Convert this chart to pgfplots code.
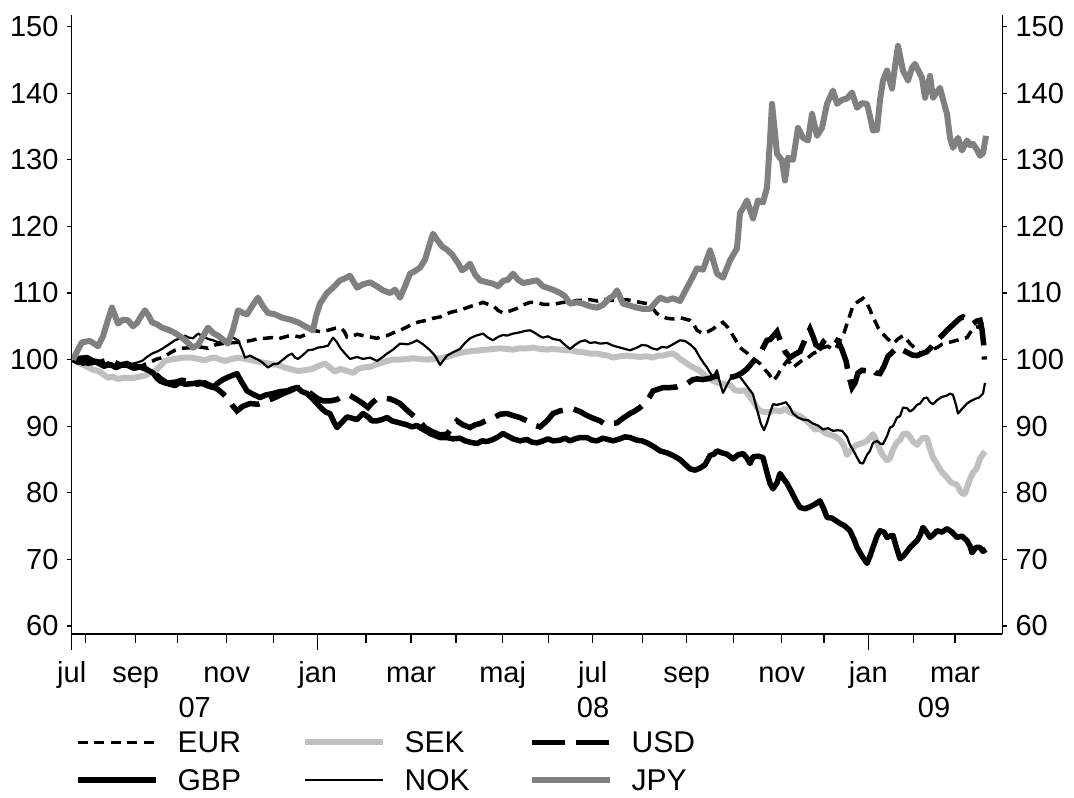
\documentclass[border=0pt]{standalone}
\usepackage{pgfplots}
\pgfplotsset{compat=1.18}
\usepackage{fontspec}
\setmainfont{Liberation Sans}
\definecolor{sekgray}{RGB}{192,192,192}
\definecolor{jpygray}{RGB}{128,128,128}
\newcommand{\bigf}{\fontsize{29}{34}\selectfont}
\newcommand{\legf}{\fontsize{30}{34}\selectfont}
\pgfplotsset{frame/.style={
  at={(71.7pt,164pt)}, anchor=south west,
  scale only axis, width=930.6pt, height=619.4pt,
  xmin=71.7, xmax=1002.3, ymin=58.8, ymax=151.8,
  axis line style={-, line width=1.3pt},
  every tick/.style={black, line width=1.2pt},
  tick align=outside,
  /pgf/number format/assume math mode=true,
  tick label style={font=\bigf}}}
\begin{document}
\begin{tikzpicture}[x=1pt,y=1pt]
\useasboundingbox (0,0) rectangle (1074,798);
\begin{axis}[frame,
  clip mode=individual,
  axis x line*=bottom, axis y line*=left,
  ytick=\empty,
  major tick length=9pt,
  xtick={71.7,85.7,135.7,177.7,226.7,273.3,317.7,366,411,456,502.7,548.3,592.7,642.3,686.7,733.3,781.7,824,868.3,913.3,955},
  xticklabels={jul,,sep,,nov,,jan,,mar,,maj,,jul,,sep,,nov,,jan,,mar},
  xticklabel style={anchor=base, inner sep=0pt, yshift=-39pt},
  extra x ticks={71.7,317.7,868.3},
  extra x tick labels={},
  extra x tick style={major tick length=16pt},
  legend columns=3,
  legend style={draw=none, fill=none, at={(axis description cs:0.0035,-0.1575)}, anchor=north west,
    inner sep=0pt, font=\legf, column sep=13pt, row sep=16.5pt,
    nodes={inner sep=0pt, text height=21pt, text depth=0pt, text width=111pt, align=left},
    /tikz/every odd column/.append style={column sep=19pt}},
  legend cell align=left,
  legend image code/.code={\draw[#1] (0pt,0pt) -- (78pt,0pt);},
  line join=round,
]
% EUR
\addplot[black, line width=3.5pt, dash pattern=on 10pt off 6.5pt, line join=miter] coordinates {
(73,100)(80,99.6)(88,99.2)(95,99.5)(103,99.3)(110,99)(118,99.2)(125,99.4)(132,99.1)(140,98.9)(145,99.3)(150,99.6)(157,100.1)(163,100.3)(170,101)(175,101.4)(182,101.7)(192,101.8)(200,101.9)(208,101.7)(215,102.2)(222,102.4)(230,102.5)(238,102.6)(245,102.7)(252,102.9)(260,103.2)(265,103.2)(272,103.3)(278,103.1)(287,103.5)(293,103.6)(300,103.4)(308,103.9)(313,104.4)(320,104.2)(328,104.4)(335,104.7)(340,104.8)(344,104.3)(347,103.4)(352,103.5)(357,103.8)(363,103.6)(370,103.4)(377,103.2)(382,103.5)(387,103.6)(393,104)(400,104.4)(407,104.9)(413,105.4)(420,105.7)(427,105.9)(433,106.2)(440,106.4)(447,106.9)(453,107.2)(460,107.4)(467,107.8)(473,108.1)(478,108.3)(483,108.6)(488,108.3)(493,108.1)(498,107.4)(503,107)(510,107.3)(517,107.7)(523,108.2)(530,108.6)(537,108.6)(543,108.3)(550,108.3)(557,108.4)(563,108.6)(570,108.6)(577,108.9)(583,108.9)(590,109)(597,108.8)(603,109.1)(610,108.9)(620,108.9)(627,109)(633,108.8)(640,108.6)(647,108.4)(652,107.8)(657,106.9)(662,106.5)(667,106.2)(673,106.1)(680,106.3)(685,106.1)(690,105.9)(694,105.2)(697,104.4)(703,103.9)(708,104.2)(713,104.6)(718,105.2)(723,105.6)(728,104.8)(733,103.6)(737,102.6)(740,101.8)(747,101)(753,100.2)(760,99.4)(765,98.5)(770,97.6)(773,96.8)(777,97.5)(780,98.3)(787,99.8)(790,99.5)(793,98.8)(798,99.4)(803,100)(808,100.3)(813,100.9)(818,101.3)(823,101.8)(828,102)(833,101.5)(836,101.7)(840,102.9)(844,104)(847,105.4)(850,106.7)(853,108.1)(857,108.6)(860,108.9)(863,109.2)(867,108.4)(870,107.5)(873,106.3)(876,105.5)(878,104.8)(882,104)(887,103.2)(890,102.8)(893,102.4)(898,103.1)(903,103.6)(907,103)(910,102.4)(915,101.7)(920,101)(924,101)(927,101.2)(932,101.5)(937,101.8)(942,102.3)(947,102.5)(952,102.7)(957,102.9)(962,103.1)(967,103.3)(970,104)(973,104.7)(977,104.9)(980,104.8)(983,105.9)(986,106.4)
};
\addlegendentry{EUR}
% SEK
\addplot[sekgray, line width=6pt] coordinates {
(73,100)(79,99.5)(85,99.1)(91,98.6)(98,98.3)(103,97.8)(108,97.3)(113,97.4)(118,97.1)(125,97.3)(132,97.2)(138,97.4)(145,97.6)(150,98)(155,98.3)(160,99)(165,99.8)(170,100)(175,100.1)(183,100.3)(192,100.3)(198,100.1)(205,99.9)(210,100.2)(215,100.3)(220,100)(225,99.8)(232,100.1)(238,100.3)(245,100.1)(252,99.9)(258,99.7)(265,99.5)(272,99.3)(278,99.2)(285,98.8)(292,98.5)(298,98.3)(305,98.4)(312,98.6)(318,99)(325,99.4)(330,98.8)(335,98.2)(340,98.6)(347,98.3)(353,98)(358,98.6)(363,98.8)(370,98.9)(377,99.3)(383,99.6)(387,99.8)(393,100)(400,100)(407,100.1)(413,100.2)(420,100.1)(427,100)(433,100.1)(440,100.2)(447,100.4)(453,100.7)(460,101)(467,101.2)(473,101.3)(480,101.4)(487,101.5)(493,101.6)(500,101.7)(507,101.6)(513,101.5)(520,101.7)(527,101.7)(533,101.8)(540,101.6)(547,101.5)(553,101.6)(560,101.5)(565,101.4)(570,101.4)(577,101.2)(583,101.1)(590,100.9)(597,100.9)(603,100.7)(608,100.6)(613,100.3)(620,100.5)(627,100.6)(633,100.5)(640,100.4)(647,100.5)(653,100.3)(658,100.6)(663,100.6)(668,100.8)(673,100.9)(677,100.5)(680,100.1)(685,99.6)(690,99.1)(695,98.7)(700,98.3)(703,97.9)(707,97.3)(713,96.8)(720,96.4)(725,96.4)(730,96.2)(735,95.4)(740,95.3)(745,95.4)(749,94.6)(753,93.8)(757,92.8)(760,92.3)(765,92.1)(770,92.1)(775,92.4)(780,92.2)(785,92.6)(790,92.1)(795,91.8)(800,91.5)(805,91)(810,90.3)(815,89.5)(820,89.6)(825,89)(830,88.7)(835,88.5)(840,87.9)(844,87)(847,85.7)(850,86.2)(853,86.8)(857,87.2)(863,87.5)(867,87.8)(873,88.8)(877,87.6)(880,86.4)(883,85.6)(887,84.9)(890,85.2)(893,86.5)(897,87.6)(900,87.9)(903,88.8)(907,88.9)(910,88.4)(913,87.7)(917,87.2)(920,87.8)(923,88.3)(927,88.2)(930,86.6)(933,85.3)(937,84.3)(940,83.5)(943,82.9)(947,82.3)(950,81.7)(953,81.4)(957,81.2)(960,80.3)(963,79.8)(965,79.9)(967,80.8)(970,82.1)(973,83)(977,83.8)(980,85.2)(985,86.2)
};
\addlegendentry{SEK}
% USD
\addplot[black, line width=5.5pt, dash pattern=on 33pt off 11pt, line join=miter] coordinates {
(73,100)(80,100.2)(87,100.3)(93,99.8)(100,99.6)(107,99.9)(113,99.7)(120,99.2)(127,99.4)(133,99)(140,98.9)(147,98.6)(153,98.2)(160,97.2)(167,96.5)(175,96.6)(182,96.9)(190,96.7)(197,96.3)(205,96.5)(212,96)(218,95.5)(222,95)(227,94.3)(232,93.2)(237,92.3)(243,93)(250,93.4)(258,93.3)(267,93.8)(275,94.3)(283,94.9)(290,95.3)(297,95.8)(303,95.8)(310,95)(317,94.2)(323,93.8)(330,93.8)(337,94)(340,94.3)(345,94.4)(350,94.6)(357,94)(363,93.4)(368,92.8)(372,93.5)(377,94.1)(383,94.2)(390,94.1)(395,93.8)(400,93.4)(410,92)(418,91)(425,89.8)(432,89.2)(440,88.7)(447,88.8)(452,89.8)(457,90.8)(463,90.2)(470,89.8)(475,90.2)(480,90.4)(487,90.9)(493,91.2)(500,91.8)(507,91.9)(513,91.6)(520,91.3)(527,90.8)(533,90.2)(540,89.9)(547,90.8)(553,91.9)(560,92.3)(567,92.5)(573,92.6)(580,92.2)(587,91.6)(593,91.2)(600,90.8)(605,90.3)(610,90.4)(617,90.5)(623,91.2)(630,91.9)(635,92.3)(640,92.8)(645,93.5)(650,94.5)(653,95.3)(657,95.5)(663,95.8)(670,95.8)(677,95.9)(682,96.2)(687,96.4)(693,97)(697,97.1)(703,97)(710,97.2)(715,97.5)(720,97.4)(727,97.3)(733,97.4)(737,97.6)(742,98)(747,98.6)(752,99.5)(757,100.3)(762,101.5)(767,102.9)(770,103)(773,103.5)(777,104.2)(781,102.5)(785,101.2)(790,100.3)(795,100.8)(800,101.2)(805,103)(810,104.6)(813,103.5)(816,102.2)(820,101.8)(824,102.8)(828,103.3)(833,103.2)(838,102.8)(842,101.5)(846,99.8)(849,97.5)(852,95.8)(855,96.5)(858,98)(862,98.4)(867,98.3)(872,98.6)(876,98)(880,97.9)(884,99)(888,100.5)(893,101.2)(897,101.8)(902,101.5)(907,101.1)(912,100.7)(917,100.6)(922,100.9)(927,101.2)(932,102)(937,102.9)(942,103.6)(947,104.4)(952,105.1)(957,105.8)(960,106.2)(963,106.4)(967,106)(970,105.6)(973,105.4)(977,105.8)(980,105.9)(982,104.5)(983.5,102.5)(984.5,100)
};
\addlegendentry{USD}
% GBP
\addplot[black, line width=5.5pt] coordinates {
(73,100)(78,99.6)(83,99.9)(88,99.4)(93,99.8)(98,99.5)(104,99)(110,99.3)(116,98.8)(122,99.2)(128,99.1)(134,98.7)(140,98.9)(147,98.5)(153,98)(157,97.2)(160,96.8)(165,96.5)(170,96.3)(175,96.1)(180,96.6)(185,96.3)(193,96.4)(200,96.6)(207,96.1)(213,95.8)(218,96.5)(223,97)(227,97.3)(232,97.6)(237,97.9)(241,96.8)(247,95.3)(253,94.8)(260,94.3)(266,94.7)(273,94.9)(280,95.2)(287,95.3)(292,95.6)(297,95.8)(302,95.2)(307,94.9)(312,94.2)(317,93.4)(322,92.6)(326,92.1)(330,91.9)(334,90.6)(337,89.8)(342,90.6)(347,91.4)(352,91.2)(357,91)(363,91.9)(368,91.4)(372,90.8)(377,90.8)(382,91)(387,91.3)(392,90.8)(397,90.6)(402,90.4)(407,90.2)(412,89.9)(417,90.1)(422,89.6)(427,89.2)(430,88.9)(435,88.6)(440,88.3)(447,88.3)(453,88.1)(460,88.2)(465,87.8)(470,87.6)(477,87.4)(482,87.8)(487,87.7)(493,88)(498,88.4)(503,88.9)(508,88.5)(513,88.1)(520,87.8)(527,88)(532,87.6)(537,87.5)(543,87.8)(548,88.1)(553,87.8)(560,87.9)(565,88.2)(570,87.8)(575,88.1)(580,88.3)(587,88.3)(592,87.9)(597,87.8)(603,88.2)(608,88)(613,87.8)(620,88.1)(625,88.4)(630,88.3)(637,87.9)(642,87.8)(647,87.5)(653,87)(660,86.3)(667,86)(673,85.6)(680,85)(685,84.3)(690,83.6)(695,83.4)(700,83.7)(705,84.2)(710,85.6)(714,85.8)(717,86.3)(722,86)(727,85.8)(733,85.1)(738,85.7)(743,85.9)(747,85.2)(750,84.4)(753,85.4)(758,85.5)(763,85.3)(767,83)(770,81.4)(773,80.6)(777,81.5)(780,82.9)(784,82)(787,81.4)(792,80)(796,78.8)(800,77.8)(805,77.6)(810,77.9)(815,78.3)(820,78.8)(824,77.5)(827,76.3)(832,76.2)(836,75.8)(840,75.4)(845,75)(850,74.3)(854,73)(857,71.8)(862,70.5)(867,69.4)(870,70.5)(873,71.8)(877,73.5)(880,74.3)(884,74.1)(887,73.3)(890,73.5)(893,73.6)(896,72)(900,70.1)(904,70.6)(910,71.8)(914,72.4)(917,72.8)(920,73.6)(923,74.8)(927,74)(930,73.3)(934,73.8)(937,74.3)(942,74.1)(947,74.6)(952,74.1)(957,73.3)(962,73.5)(967,72.8)(970,72)(972,71)(976,71.8)(980,71.8)(983,71.2)(986,71.5)
};
\addlegendentry{GBP}
% NOK
\addplot[black, line width=2.2pt] coordinates {
(73,100)(78,99.6)(83,99.2)(88,99.5)(93,99.9)(98,99.6)(103,99.3)(108,99.6)(113,98.9)(118,99.2)(123,99.5)(128,99.1)(133,99.4)(138,99.6)(142,99.8)(147,100.4)(152,100.9)(157,101.2)(162,101.6)(168,102.2)(175,102.9)(180,103.2)(185,103.6)(189,103.3)(193,103.2)(198,103.9)(203,103.5)(208,103.1)(213,102.9)(218,102.6)(223,102.8)(228,103)(233,103.3)(238,102.9)(242,101.5)(245,100.3)(250,100.6)(255,100.2)(258,100)(263,99.5)(268,98.8)(273,99.3)(278,99.4)(283,100)(288,100.6)(292,100.9)(295,100.3)(298,100.1)(303,100.7)(308,101.4)(313,101.5)(318,101.8)(323,101.9)(328,102.1)(333,103.3)(337,102.6)(340,101.8)(345,100.9)(350,100.1)(357,100.4)(363,100.1)(370,100.3)(377,99.8)(382,100.3)(387,100.9)(393,101.5)(400,102.4)(408,102.3)(413,102.6)(417,102.9)(423,102.3)(427,101.8)(430,101.4)(435,100.6)(440,99.2)(443,99.8)(447,100.6)(453,101.1)(460,101.6)(465,102.5)(470,103.2)(476,103.6)(483,103.9)(488,103.3)(493,102.9)(498,103.4)(503,103.7)(507,103.6)(513,103.9)(520,104.1)(525,104.3)(530,104.4)(535,104)(540,103.5)(543,103.3)(548,103.5)(553,103.1)(560,102.9)(565,102.2)(570,101.6)(575,102.2)(580,102.7)(585,102.9)(590,102.5)(595,102.6)(600,102.4)(607,102.5)(613,102.1)(620,101.8)(625,101.6)(630,101.4)(637,101.8)(642,102.2)(647,102.1)(652,101.7)(657,101.5)(662,101.9)(667,101.8)(673,102.3)(680,102.9)(685,102.8)(690,102.3)(695,101.6)(700,100.3)(704,99.4)(707,98.8)(713,97.3)(717,98.4)(720,96.5)(723,95)(727,96.2)(732,97.6)(738,97.8)(743,96.8)(748,95.8)(753,94.8)(757,92.5)(761,90.3)(764,89.4)(767,90.5)(770,92)(773,93.3)(777,93.2)(782,93.4)(786,93.6)(790,92.8)(793,91.9)(798,91.3)(803,91)(808,90.9)(813,90.4)(818,90.1)(823,89.5)(828,89.7)(833,89.3)(838,89.4)(842,89.3)(847,88.4)(850,87.2)(854,86.2)(857,85.3)(860,84.5)(863,84.4)(867,85.7)(870,86.3)(873,87.5)(877,87.8)(880,87.4)(883,87.3)(887,88.5)(890,89.8)(893,90)(897,91.3)(900,91.5)(903,92.8)(907,92.7)(910,92.2)(913,92.5)(917,93.2)(920,93.4)(924,94.2)(927,94.3)(930,93.6)(933,93.3)(937,93.9)(942,94.4)(947,94.6)(950,94.9)(953,94.7)(956,93.2)(958,91.9)(962,92.6)(967,93.4)(971,93.8)(975,94.1)(979,94.3)(983,94.9)(985,96.5)
};
\addlegendentry{NOK}
% JPY
\addplot[jpygray, line width=6pt] coordinates {
(73,100)(78,101.5)(82,102.6)(90,102.8)(98,102)(103,103.5)(108,106)(112,107.8)(118,105.4)(123,106)(128,105.9)(133,105)(137,105.5)(141,106.5)(145,107.4)(149,106.5)(152,105.6)(157,105.3)(162,104.8)(168,104.5)(175,104)(182,103.3)(188,102.5)(193,101.8)(198,102.2)(203,103.5)(208,104.8)(213,104)(218,103.6)(223,103)(228,102.4)(233,104.5)(238,107.4)(243,107)(247,106.8)(252,108)(258,109.3)(263,108)(268,107)(275,106.8)(282,106.3)(290,106)(298,105.6)(305,105)(313,104.4)(316,106.5)(320,108.4)(327,110)(333,110.8)(340,111.9)(345,112.2)(350,112.6)(357,110.8)(363,111.3)(370,111.6)(377,111)(383,110.4)(390,110)(395,110.5)(400,109.3)(405,111)(410,112.9)(415,113.3)(420,113.8)(425,115)(430,117.5)(433,118.9)(437,118)(442,117)(447,116.5)(452,115.8)(458,114.5)(462,113.4)(466,113.8)(470,114.4)(475,112.8)(480,111.9)(487,111.6)(493,111.4)(498,111)(503,111.8)(508,112)(513,112.9)(518,112)(523,111.5)(530,111.7)(537,111.9)(543,111)(547,110.8)(553,110.5)(560,110)(565,109.5)(570,108.4)(577,108.6)(583,108.4)(590,108)(597,107.8)(603,108.2)(610,109.3)(613,109.5)(617,110.4)(623,108.4)(630,108.1)(637,107.8)(643,107.6)(650,107.6)(655,108.5)(660,109.3)(667,108.9)(673,109.2)(680,108.8)(687,110.8)(693,112.5)(697,113.7)(703,113.5)(710,116.4)(713,115)(717,112.9)(723,112.3)(730,114.9)(737,116.7)(740,122)(744,123)(747,123.9)(753,121.2)(758,123.9)(763,123.6)(767,125.8)(770,133)(772,138.4)(775,134)(777,130.9)(782,129.9)(785,126.9)(788,130.3)(793,130)(798,134.8)(803,133.3)(808,132.9)(812,136.9)(817,133.6)(822,134.8)(827,138.4)(833,140.4)(837,138.4)(842,139)(847,139.2)(852,140.1)(857,137.8)(862,138.5)(867,138.4)(870,136.5)(873,134.4)(877,134.5)(880,139)(883,141.9)(887,143.4)(892,140.7)(895,144)(898,147.1)(903,143.4)(908,141.9)(912,143.8)(915,144.4)(918,143.5)(922,142.3)(925,139.3)(930,142.6)(933,139.3)(937,140.2)(940,140.8)(944,138.5)(947,136.9)(950,133.3)(953,131.8)(958,133.3)(962,131.4)(967,132.9)(970,132.2)(973,132.4)(977,131.5)(980,130.6)(983,131)(986,133.6)
};
\addlegendentry{JPY}
\node[anchor=base, inner sep=0pt, font=\bigf] at (axis cs:194.7,58.8) [yshift=-84pt] {07};
\node[anchor=base, inner sep=0pt, font=\bigf] at (axis cs:593,58.8) [yshift=-84pt] {08};
\node[anchor=base, inner sep=0pt, font=\bigf] at (axis cs:934,58.8) [yshift=-84pt] {09};
\end{axis}
\begin{axis}[frame,
  axis x line=none, axis y line*=left,
  ytick={60,70,...,150}, major tick length=5pt,
  yticklabel style={anchor=east, inner sep=0pt, xshift=-8pt},
]
\end{axis}
\begin{axis}[frame,
  axis x line=none, axis y line*=right,
  ytick={60,70,...,150}, major tick length=5pt,
  yticklabel style={anchor=west, inner sep=0pt, xshift=8pt},
]
\end{axis}
\end{tikzpicture}
\end{document}
